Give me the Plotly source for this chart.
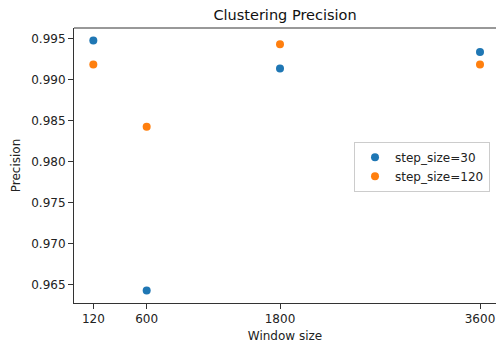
import plotly.graph_objects as go

window_sizes = [120, 600, 1800, 3600]
prec_step30 = [0.99477, 0.96431, 0.99135, 0.99338]
prec_step120 = [0.99184, 0.98426, 0.99432, 0.99184]
series_names = ["step_size=30", "step_size=120"]
y_ticks = [0.965, 0.970, 0.975, 0.980, 0.985, 0.990, 0.995]

FONT = "DejaVu Sans"
fig = go.Figure()
fig.add_trace(go.Scatter(x=window_sizes, y=prec_step30, mode="markers", name=series_names[0],
                         marker=dict(color="#1f77b4", size=8)))
fig.add_trace(go.Scatter(x=window_sizes, y=prec_step120, mode="markers", name=series_names[1],
                         marker=dict(color="#ff7f0e", size=8)))

fig.update_layout(
    width=496, height=347,
    margin=dict(l=74, r=0, t=28, b=44),
    paper_bgcolor="white", plot_bgcolor="white",
    font=dict(family=FONT, size=12, color="#222"),
    title=dict(text="Clustering Precision", x=0.5, xref="paper", xanchor="center",
               y=1 - 15 / 347, yref="container", yanchor="middle",
               font=dict(family=FONT, size=14.5, color="#111")),
    showlegend=True,
    legend=dict(x=0.6635, y=0.586, xanchor="left", yanchor="top",
                bgcolor="rgba(255,255,255,0.8)", bordercolor="#cccccc", borderwidth=1,
                font=dict(family=FONT, size=12, color="#222"), tracegroupgap=0),
    xaxis=dict(range=[-54, 3744], tickmode="array", tickvals=window_sizes,
               ticktext=[str(v) for v in window_sizes],
               showgrid=False, zeroline=False, showline=True, linecolor="#333", linewidth=1,
               mirror=False, ticks="outside", ticklen=5, tickcolor="#333",
               title=dict(text="Window size", standoff=6, font=dict(family=FONT, size=12))),
    yaxis=dict(range=[0.96279, 0.99629], tickmode="array", tickvals=y_ticks,
               ticktext=[f"{v:.3f}" for v in y_ticks],
               showgrid=False, zeroline=False, showline=True, linecolor="#333", linewidth=1,
               ticks="outside", ticklen=5, tickcolor="#333",
               title=dict(text="Precision", standoff=8, font=dict(family=FONT, size=12))),
)
# top spine
fig.add_shape(type="line", xref="paper", yref="paper", x0=0, x1=1, y0=1, y1=1,
              line=dict(color="#333", width=1))

fig.write_html("out.html")
